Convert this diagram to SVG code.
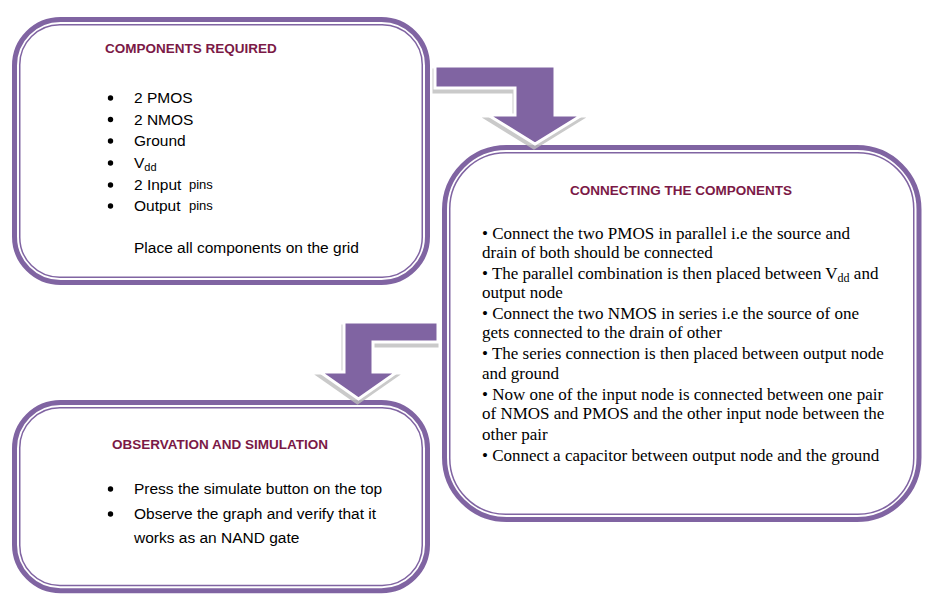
<svg xmlns="http://www.w3.org/2000/svg" width="934" height="604" viewBox="0 0 934 604">
<style>
.frame{fill:#ffffff;stroke:#8064A2;stroke-width:5}
.inner{fill:none;stroke:#8064A2;stroke-width:1.5}
.title{font-family:"Liberation Sans",Arial,sans-serif;font-weight:bold;font-size:13.5px;fill:#7B1946}
.body{font-family:"Liberation Sans",Arial,sans-serif;font-size:15.5px;fill:#000}
.small{font-size:13px}
.sub{font-size:11px}
.serif{font-family:"Liberation Serif","Times New Roman",serif;font-size:17px;fill:#000}
.ssub{font-size:12px}
.dot{fill:#000}
.arrow{fill:#8064A2;stroke:#ffffff;stroke-width:3;stroke-linejoin:miter}
.shadow{fill:#bdbdbd;stroke:#bdbdbd;stroke-width:3;opacity:0.8}
</style>
<rect width="934" height="604" fill="#ffffff"/>

<g id="components-required">
<rect class="frame" x="14.5" y="19.5" width="413" height="263" rx="46"/>
<rect class="inner" x="19.75" y="24.75" width="402.5" height="252.5" rx="40"/>
<text class="title" x="105" y="53">COMPONENTS REQUIRED</text>
<circle class="dot" cx="110.5" cy="98" r="2.7"/>
<circle class="dot" cx="110.5" cy="119.5" r="2.7"/>
<circle class="dot" cx="110.5" cy="141" r="2.7"/>
<circle class="dot" cx="110.5" cy="163" r="2.7"/>
<circle class="dot" cx="110.5" cy="185" r="2.7"/>
<circle class="dot" cx="110.5" cy="206" r="2.7"/>
<text class="body" x="134" y="103">2 PMOS</text>
<text class="body" x="134" y="124.5">2 NMOS</text>
<text class="body" x="134" y="146">Ground</text>
<text class="body" x="134" y="168">V<tspan class="sub" dy="3">dd</tspan></text>
<text class="body" x="134" y="190">2 Input <tspan class="small" x="189" dy="-1">pins</tspan></text>
<text class="body" x="134" y="211">Output <tspan class="small" x="189" dy="-1">pins</tspan></text>
<text class="body" x="134" y="253">Place all components on the grid</text>
</g>

<g id="connecting-components">
<rect class="frame" x="444.5" y="147.5" width="474.5" height="372" rx="62"/>
<rect class="inner" x="449.75" y="152.75" width="464" height="361.5" rx="56"/>
<text class="title" x="570" y="195">CONNECTING THE COMPONENTS</text>
<text class="serif" x="482" y="239">• Connect the two PMOS  in parallel i.e the source and</text>
<text class="serif" x="482" y="258">drain of both should be connected</text>
<text class="serif" x="482" y="279">• The parallel combination is then placed between V<tspan class="ssub" dy="3">dd</tspan><tspan dy="-3"> and</tspan></text>
<text class="serif" x="482" y="298">output node</text>
<text class="serif" x="482" y="319">• Connect the two NMOS  in series i.e the source of one</text>
<text class="serif" x="482" y="338">gets connected to the drain of other</text>
<text class="serif" x="482" y="359">• The series connection is then placed between output node</text>
<text class="serif" x="482" y="379">and ground</text>
<text class="serif" x="482" y="400">• Now one of the input node is connected between one pair</text>
<text class="serif" x="482" y="419">of NMOS  and PMOS and the  other input node between the</text>
<text class="serif" x="482" y="440">other pair</text>
<text class="serif" x="482" y="461">• Connect a capacitor between output node and the ground</text>
</g>

<g id="observation-simulation">
<rect class="frame" x="14.5" y="402.5" width="413" height="188.3" rx="46"/>
<rect class="inner" x="19.75" y="407.75" width="402.5" height="177.8" rx="40"/>
<text class="title" x="112" y="449">OBSERVATION AND SIMULATION</text>
<circle class="dot" cx="110.5" cy="489" r="2.7"/>
<circle class="dot" cx="110.5" cy="514" r="2.7"/>
<text class="body" x="134" y="494">Press the simulate button on the top</text>
<text class="body" x="134" y="519">Observe the graph and verify that it</text>
<text class="body" x="134" y="543">works as an NAND gate</text>
</g>

<g id="connectors">
<g id="arrow-1">
<path class="shadow" transform="translate(-1,4)" d="M435,66 H555 V115 H582 L535,144 L488,115 H515 V88 H435 Z"/>
<path class="arrow" d="M435,66 H555 V115 H582 L535,144 L488,115 H515 V88 H435 Z"/>
</g>
<g id="arrow-2">
<path class="shadow" transform="translate(-1,4)" d="M438,322 V342 H373 V372 H397 L358.5,399 L320,372 H344 V322 Z"/>
<path class="arrow" d="M438,322 V342 H373 V372 H397 L358.5,399 L320,372 H344 V322 Z"/>
</g>
</g>
</svg>
